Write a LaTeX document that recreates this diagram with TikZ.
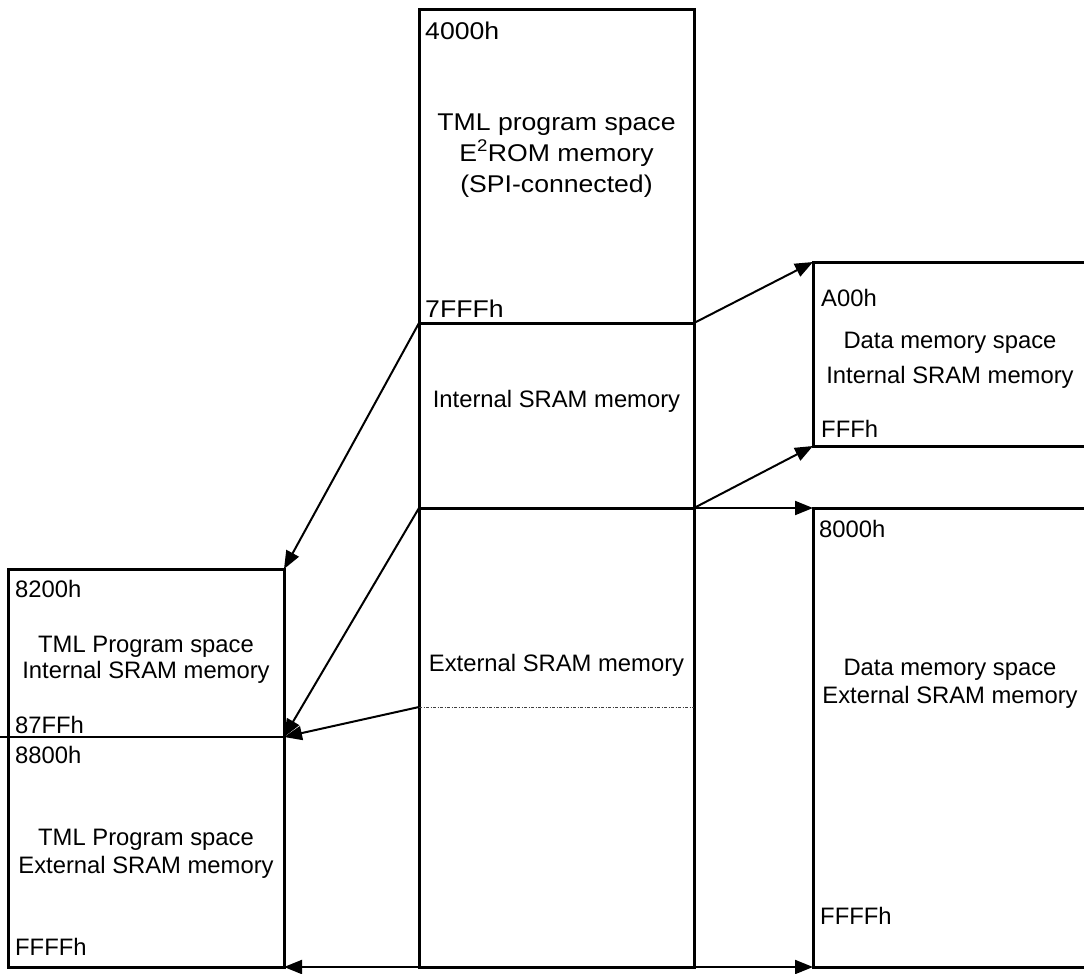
\documentclass[tikz,border=0pt]{standalone}
\usepackage{fontspec}
\setmainfont{Liberation Sans}
\newfontfamily\widefont[FakeStretch=1.1]{Liberation Sans}
\usetikzlibrary{arrows.meta}
\begin{document}
\begin{tikzpicture}[x=1pt,y=-1pt,
  box/.style={line width=3pt},
  sep/.style={line width=1.5pt},
  conn/.style={line width=2pt,-{Triangle[length=18pt,width=14pt]}},
  lbl/.style={anchor=base west,inner sep=0pt,font=\fontsize{23.8}{28}\selectfont},
  txt/.style={anchor=base,inner sep=0pt,font=\fontsize{23.8}{28}\selectfont},
  wlbl/.style={anchor=base west,inner sep=0pt,font=\widefont\fontsize{24.2}{28}\selectfont},
  wtxt/.style={anchor=base,inner sep=0pt,font=\widefont\fontsize{24.2}{28}\selectfont},
  dotline/.style={line width=0.9pt,black!75,dash pattern=on 3pt off 1.5pt on 1pt off 1.5pt}]
\useasboundingbox (0,0) rectangle (1084,974);
% centre column
\coordinate (cTL) at (419,10);
\coordinate (cTR) at (694,10);
\coordinate (cML) at (419,323);
\coordinate (cMR) at (694,323);
\coordinate (cLL) at (419,508);
\coordinate (cLR) at (694,508);
\coordinate (cDL) at (419,707);
\coordinate (cDR) at (694,707);
\coordinate (cBL) at (419,967);
\coordinate (cBR) at (694,967);
% left box
\coordinate (lTL) at (8,569);
\coordinate (lTR) at (284,569);
\coordinate (lDL) at (0,737);
\coordinate (lDR) at (284,737);
\coordinate (lBL) at (8,967);
\coordinate (lBR) at (284,967);
% right top box
\coordinate (rTL) at (813,262);
\coordinate (rTE) at (1084,262);
\coordinate (rBL) at (813,446);
\coordinate (rBE) at (1084,446);
% right bottom box
\coordinate (sTL) at (813,508);
\coordinate (sTE) at (1084,508);
\coordinate (sBL) at (813,967);
\coordinate (sBE) at (1084,967);

% boxes
\draw[box] (cTL) rectangle (cBR);
\draw[box] (cML) -- (cMR);
\draw[box] (cLL) -- (cLR);
\draw[dotline] (cDL) -- (cDR);
\draw[box] (lTL) rectangle (lBR);
\draw[sep] (lDL) -- (lDR);
\draw[box] (rTE) -- (rTL) -- (rBL) -- (rBE);
\draw[box] (sTE) -- (sTL) -- (sBL) -- (sBE);

% connectors
\draw[conn] (cML) -- (lTR);
\draw[conn] (cLL) -- (lDR);
\draw[conn] (cDL) -- (lDR);
\draw[conn] (cMR) -- (rTL);
\draw[conn] (cLR) -- (rBL);
\draw[conn] (cLR) -- (sTL);
\draw[conn] (cBL) -- (lBR);
\draw[conn] (cBR) -- (sBL);

% top box texts
\node[wlbl] (a4000) at (425,40) {4000h};
\node[wtxt] (tp1) at (556.5,130) {TML program space};
\node[wtxt] (tp2) at (556.5,161) {E\textsuperscript{2}ROM memory};
\node[wtxt] (tp3) at (556.5,192) {(SPI-connected)};
\node[wlbl] (a7fff) at (425,317) {7FFFh};
% centre texts
\node[txt] (cint) at (556.5,407) {Internal SRAM memory};
\node[txt] (cext) at (556.5,671) {External SRAM memory};
% left box texts
\node[lbl] (a8200) at (15,597) {8200h};
\node[txt] (lp1) at (146,652) {TML Program space};
\node[txt] (lp2) at (146,678) {Internal SRAM memory};
\node[lbl] (a87ff) at (15,733) {87FFh};
\node[lbl] (a8800) at (15,763) {8800h};
\node[txt] (lq1) at (146,845) {TML Program space};
\node[txt] (lq2) at (146,873) {External SRAM memory};
\node[lbl] (affffl) at (15,955) {FFFFh};
% right top texts
\node[lbl] (aa00) at (821,306) {A00h};
\node[txt] (rp1) at (950,348) {Data memory space};
\node[txt] (rp2) at (950,383) {Internal SRAM memory};
\node[lbl] (afff) at (821,437) {FFFh};
% right bottom texts
\node[lbl] (a8000) at (819,537) {8000h};
\node[txt] (sp1) at (950,675) {Data memory space};
\node[txt] (sp2) at (950,703) {External SRAM memory};
\node[lbl] (affffr) at (820,924) {FFFFh};
\end{tikzpicture}
\end{document}
